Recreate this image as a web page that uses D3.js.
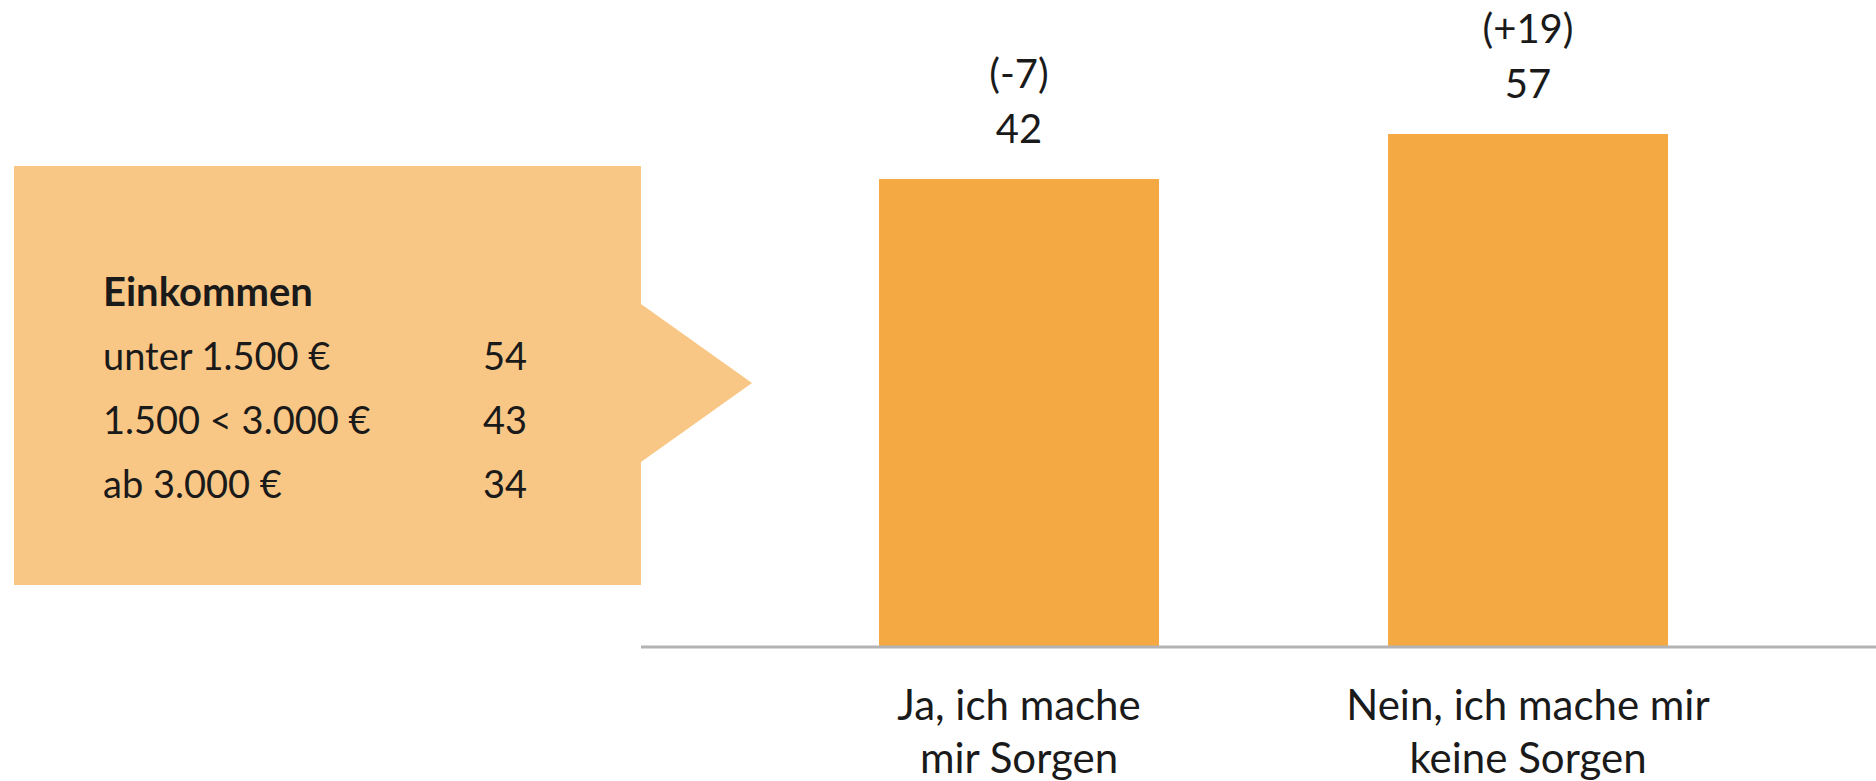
<script src="https://d3js.org/d3.v7.min.js"></script>

<div id="chart"></div>

<style>
body {
    margin: 0;
    padding: 0;
    background: #ffffff;
}
#chart svg text {
    font-family: Lato, 'Open Sans', sans-serif;
    fill: #1a1a1a;
}
</style>

<script>
// chart data
const categories = [["Ja, ich mache", "mir Sorgen"], ["Nein, ich mache mir", "keine Sorgen"]];
const values = [42, 57];
const changes = ["(-7)", "(+19)"];

// callout data
const calloutTitle = "Einkommen";
const incomeGroups = ["unter 1.500 €", "1.500 < 3.000 €", "ab 3.000 €"];
const incomeValues = [54, 43, 34];

const W = 1876, H = 781;
const axisY = 647;
const barColor = "#f5a942";
const boxColor = "#f9c785";

const svg = d3.select("#chart").append("svg")
    .attr("width", W).attr("height", H);

// x scale over the plot area (right of the callout)
const x = d3.scaleBand()
    .domain(d3.range(categories.length))
    .range([641, 1906])
    .paddingInner(0.45)
    .paddingOuter(0.4676);

// the original axis does not start at zero
const y = d3.scaleLinear()
    .domain([-114, 57])
    .range([axisY, 134]);

// callout box with arrow
const box = {x0: 14, x1: 641, y0: 166, y1: 585, a0: 304, a1: 462, tip: 752};
svg.append("path")
    .attr("d", `M${box.x0},${box.y0}H${box.x1}V${box.a0}L${box.tip},${(box.a0 + box.a1) / 2}L${box.x1},${box.a1}V${box.y1}H${box.x0}Z`)
    .attr("fill", boxColor);

svg.append("text")
    .attr("x", 103).attr("y", 306)
    .attr("font-size", 40).attr("font-weight", 700)
    .text(calloutTitle);

const rows = svg.append("g").selectAll("g")
    .data(incomeGroups)
    .join("g")
    .attr("transform", (d, i) => `translate(0,${370 + i * 64})`);

rows.append("text")
    .attr("x", 103)
    .attr("font-size", 38)
    .text(d => d);

rows.append("text")
    .attr("x", 527)
    .attr("text-anchor", "end")
    .attr("font-size", 38)
    .text((d, i) => incomeValues[i]);

// bars
svg.append("g").selectAll("rect")
    .data(values)
    .join("rect")
    .attr("x", (d, i) => x(i))
    .attr("y", d => y(d))
    .attr("width", x.bandwidth())
    .attr("height", d => axisY - y(d))
    .attr("fill", barColor);

// axis line
svg.append("line")
    .attr("x1", 641).attr("x2", W)
    .attr("y1", axisY).attr("y2", axisY)
    .attr("stroke", "#b3b3b3")
    .attr("stroke-width", 3);

// value labels
const labels = svg.append("g").selectAll("g")
    .data(values)
    .join("g")
    .attr("transform", (d, i) => `translate(${x(i) + x.bandwidth() / 2},${y(d) - 36})`)
    .attr("text-anchor", "middle")
    .attr("font-size", 40);

labels.append("text").text(d => d);
labels.append("text").attr("y", -55).text((d, i) => changes[i]);

// category labels
const cats = svg.append("g").selectAll("text")
    .data(categories)
    .join("text")
    .attr("x", (d, i) => x(i) + x.bandwidth() / 2)
    .attr("y", 720)
    .attr("text-anchor", "middle")
    .attr("font-size", 42);

cats.selectAll("tspan")
    .data(d => d)
    .join("tspan")
    .attr("x", function () { return this.parentNode.getAttribute("x"); })
    .attr("dy", (d, i) => i ? 53 : 0)
    .text(d => d);
</script>
